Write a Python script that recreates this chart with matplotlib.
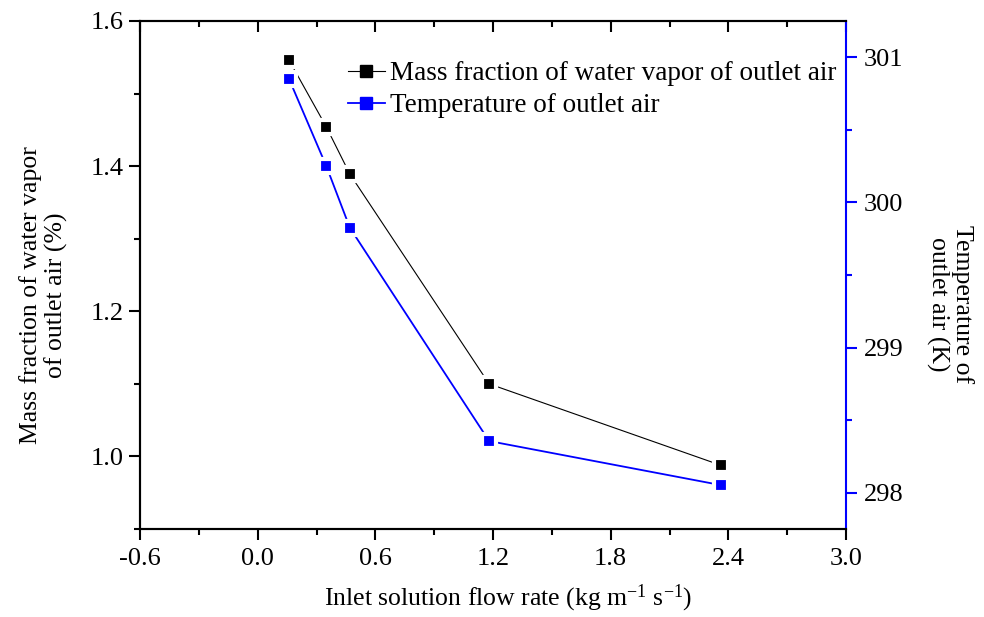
import matplotlib
matplotlib.use("Agg")
import matplotlib.pyplot as plt
from matplotlib.ticker import AutoMinorLocator
from matplotlib.lines import Line2D, TICKDOWN

plt.rcParams['font.family'] = ['Liberation Serif', 'DejaVu Serif']
plt.rcParams['mathtext.fontset'] = 'custom'
plt.rcParams['mathtext.rm'] = 'Liberation Serif'
plt.rcParams['mathtext.it'] = 'Liberation Serif:italic'

# Inlet solution flow rate (kg m-1 s-1)
flow_rate = [0.16, 0.35, 0.47, 1.18, 2.36]
# Mass fraction of water vapor of outlet air (%)
mass_fraction = [1.546, 1.454, 1.389, 1.100, 0.988]
# Temperature of outlet air (K)
temperature = [300.85, 300.25, 299.825, 298.356, 298.053]

x_ticks = [-0.6, 0.0, 0.6, 1.2, 1.8, 2.4, 3.0]
left_ticks = [1.0, 1.2, 1.4, 1.6]
right_ticks = [298, 299, 300, 301]

BLUE = '#0000ff'

fig = plt.figure(figsize=(9.84, 6.17), dpi=100)
ax = fig.add_axes([0.1423, 0.1426, 0.7175, 0.8234])
ax2 = ax.twinx()

tick_fs = 19
label_fs = 18.5
legend_fs = 19.5
spine_w = 1.5

# Mass fraction series on the left axis
ax.plot(flow_rate, mass_fraction, color='black', lw=0.8, zorder=2)
ax.plot(flow_rate, mass_fraction, ls='none', marker='s', ms=10.5,
        mfc='black', mec='white', mew=3.0, zorder=3)
# Temperature series on the right axis
ax2.plot(flow_rate, temperature, color=BLUE, lw=1.3, zorder=2)
ax2.plot(flow_rate, temperature, ls='none', marker='s', ms=10.5,
         mfc=BLUE, mec='white', mew=3.0, zorder=3)

ax.set_xlim(-0.6, 3.0)
ax.set_ylim(0.9, 1.6)
ax2.set_ylim(297.75, 301.25)

ax.set_xticks(x_ticks)
ax.set_xticklabels([f"{v:.1f}" for v in x_ticks])
ax.xaxis.set_minor_locator(AutoMinorLocator(2))
ax.set_yticks(left_ticks)
ax.set_yticklabels([f"{v:.1f}" for v in left_ticks])
ax.yaxis.set_minor_locator(AutoMinorLocator(2))
ax2.set_yticks(right_ticks)
ax2.set_yticklabels([str(v) for v in right_ticks])
ax2.yaxis.set_minor_locator(AutoMinorLocator(2))

ax.tick_params(axis='x', which='major', direction='out', length=8, width=1.5,
               labelsize=tick_fs, top=True, pad=6)
ax.tick_params(axis='x', which='minor', direction='out', length=4.5, width=1.5, top=True)
ax.tick_params(axis='y', which='major', direction='out', length=8, width=1.5,
               labelsize=tick_fs, right=False, pad=4)
ax.tick_params(axis='y', which='minor', direction='out', length=4.5, width=1.5, right=False)
ax2.tick_params(axis='y', which='major', direction='out', length=8, width=1.5,
                labelsize=tick_fs, color=BLUE, labelcolor='black', pad=5)
ax2.tick_params(axis='y', which='minor', direction='out', length=4.5, width=1.5,
                color=BLUE)

# top ticks point into the plot
for t in ax.xaxis.get_major_ticks() + ax.xaxis.get_minor_ticks():
    t.tick2line.set_marker(TICKDOWN)

for s in ['left', 'bottom', 'top']:
    ax.spines[s].set_linewidth(spine_w)
    ax2.spines[s].set_linewidth(spine_w)
ax.spines['right'].set_visible(False)
ax2.spines['right'].set_color(BLUE)
ax2.spines['right'].set_linewidth(spine_w)

ax.set_xlabel(r"Inlet solution flow rate (kg m$\mathregular{^{-1}}$ s$\mathregular{^{-1}}$)",
              fontsize=label_fs, va='center')
ax.xaxis.set_label_coords(0.522, -0.136)
ax.set_ylabel("Mass fraction of water vapor\nof outlet air (%)", fontsize=label_fs,
              linespacing=1.12, va='center')
ax.yaxis.set_label_coords(-0.137, 0.46)
ax2.set_ylabel("Temperature of\noutlet air (K)", fontsize=label_fs, rotation=-90,
               linespacing=1.12, va='center')
ax2.yaxis.set_label_coords(1.147, 0.443)

handles = [
    Line2D([], [], color='black', lw=0.8, marker='s', ms=8, mfc='black', mec='black'),
    Line2D([], [], color=BLUE, lw=1.3, marker='s', ms=8, mfc=BLUE, mec=BLUE),
]
ax.legend(handles, ["Mass fraction of water vapor of outlet air",
                    "Temperature of outlet air"],
          loc='upper left', bbox_to_anchor=(0.268, 0.958), frameon=False,
          fontsize=legend_fs, handlelength=1.35, handletextpad=0.2,
          labelspacing=0.25, borderpad=0.2)

fig.savefig("out.png", dpi=100)
